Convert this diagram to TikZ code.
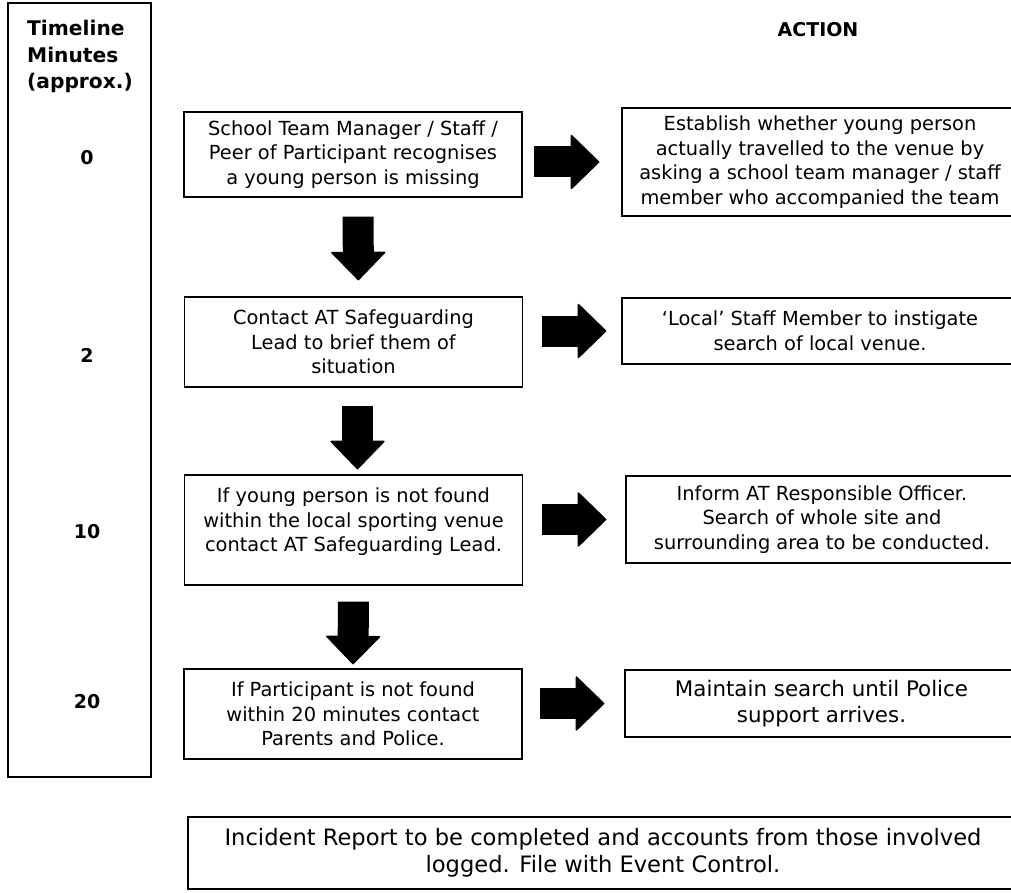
\documentclass[tikz,border=0pt]{standalone}
\usepackage{fontspec}
\setmainfont{DejaVu Sans}
\usetikzlibrary{arrows.meta}
\tikzset{
  stepbox/.style={
    draw,
    line width=1.2pt,
    minimum width=338pt,
    minimum height=88pt,
    align=center,
    inner sep=0pt,
    font=\fontsize{19.4}{24.5}\selectfont
  },
  actionbox/.style={
    stepbox,
    minimum width=396pt
  },
  fatarrow/.style={
    line width=31pt,
    -{Triangle[length=29pt,width=56pt,line width=1.5pt,round]}
  },
  minutemark/.style={
    font=\fontsize{19}{24}\selectfont\bfseries
  }
}

\begin{document}
\begin{tikzpicture}[x=1pt,y=-1pt]
  \useasboundingbox (0,0) rectangle (1011,893);
  % timeline column
  \node[draw, line width=1.2pt, minimum width=143pt, minimum height=774pt, inner sep=0pt] (timeline) at (79.5,390) {};
  \node[anchor=north west, inner sep=0pt, align=left, font=\fontsize{20.2}{26.5}\selectfont\bfseries] (tlhead) at (27,20) {Timeline\\Minutes\\(approx.)};
  \node[minutemark] (t0) at (87,158) {0};
  \node[minutemark] (t2) at (87,355) {2};
  \node[minutemark] (t10) at (87,532) {10};
  \node[minutemark] (t20) at (87,702) {20};
  \node[minutemark] (actionhead) at (818,30) {ACTION};
  % steps on the left
  \node[stepbox, minimum height=85pt] (spotted) at (353,154.5) {School Team Manager / Staff /\\Peer of Participant recognises\\a young person is missing};
  \node[stepbox, minimum height=90pt] (brief) at (353.5,342) {Contact AT Safeguarding\\Lead to brief them of\\situation};
  \node[stepbox, minimum height=110pt, text depth=20pt] (notfound) at (353.5,530) {If young person is not found\\within the local sporting venue\\contact AT Safeguarding Lead.};
  \node[stepbox, minimum height=90pt] (police) at (353,714) {If Participant is not found\\within 20 minutes contact\\Parents and Police.};
  % actions on the right
  \node[actionbox, minimum height=108pt] (checktravel) at (820,162) {Establish whether young person\\actually travelled to the venue by\\asking a school team manager / staff\\member who accompanied the team};
  \node[actionbox, minimum height=66pt] (localsearch) at (820,331) {`Local' Staff Member to instigate\\search of local venue.};
  \node[actionbox, minimum width=392pt, minimum height=87pt] (sitesearch) at (822,519.5) {Inform AT Responsible Officer.\\Search of whole site and\\surrounding area to be conducted.};
  \node[actionbox, minimum width=393pt, minimum height=67pt, font=\fontsize{21.4}{26}\selectfont] (holdsearch) at (821.5,703.5) {Maintain search until Police\\support arrives.};
  \node[stepbox, minimum width=830pt, minimum height=72pt, font=\fontsize{22.6}{26.5}\selectfont] (report) at (603,853) {Incident Report to be completed and accounts from those involved\\logged. File with Event Control.};
  % block arrows down
  \draw[fatarrow, shorten <=19pt, shorten >=16pt] ([xshift=5pt]spotted.south) -- ([xshift=5pt]brief.north);
  \draw[fatarrow, shorten <=18pt, shorten >=5pt] ([xshift=4pt]brief.south) -- ([xshift=4pt]notfound.north);
  \draw[fatarrow, shorten <=16pt, shorten >=4pt] (notfound.south) -- (police.north);
  % block arrows across
  \draw[fatarrow, shorten <=11pt, shorten >=22pt] (checktravel.west -| spotted.east) -- (checktravel.west);
  \draw[fatarrow, shorten <=19pt, shorten >=15pt] (localsearch.west -| brief.east) -- (localsearch.west);
  \draw[fatarrow, shorten <=19pt, shorten >=19pt] (sitesearch.west -| notfound.east) -- (sitesearch.west);
  \draw[fatarrow, shorten <=17pt, shorten >=20pt] (holdsearch.west -| police.east) -- (holdsearch.west);
\end{tikzpicture}
\end{document}
